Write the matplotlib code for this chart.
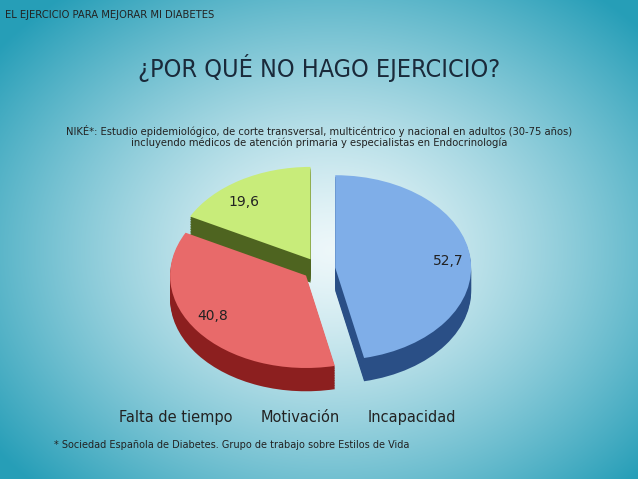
import numpy as np
import matplotlib
matplotlib.use("Agg")
import matplotlib.pyplot as plt

categories = ["Incapacidad", "Falta de tiempo", "Motivación"]
values = [52.7, 40.8, 19.6]
legend_order = ["Falta de tiempo", "Motivación", "Incapacidad"]
top_colors = ["#7faee8", "#e86a6a", "#c8ec7a"]
side_colors = ["#2a4f86", "#8c1f1f", "#4e6420"]

fig = plt.figure(figsize=(6.38, 4.79), dpi=100)
bg = fig.add_axes([0, 0, 1, 1])
yy, xx = np.mgrid[0:479, 0:638]
r = np.sqrt(((xx - 330) / 420.0) ** 2 + ((yy - 250) / 330.0) ** 2)
c0 = np.array([0.93, 0.97, 0.98]); c1 = np.array([0.15, 0.62, 0.72])
t = np.clip(r, 0, 1)[..., None] ** 1.3
img = c0 * (1 - t) + c1 * t
bg.imshow(img, aspect="auto", extent=[0, 1, 0, 1])
bg.axis("off")

fn = "DejaVu Sans"
fig.text(0.008, 0.962, "EL EJERCICIO PARA MEJORAR MI DIABETES", fontsize=8, color="#222", family=fn, fontstretch="condensed")
fig.text(0.5, 0.84, "¿POR QUÉ NO HAGO EJERCICIO?", fontsize=18, color="#1a2a3a", family=fn, ha="center", fontstretch="condensed")
fig.text(0.5, 0.695, "NIKÉ*: Estudio epidemiológico, de corte transversal, multicéntrico y nacional en adultos (30-75 años)\nincluyendo médicos de atención primaria y especialistas en Endocrinología",
         fontsize=8, color="#222", family=fn, ha="center", linespacing=1.1, fontstretch="condensed")

ax = fig.add_axes([0.16, 0.13, 0.68, 0.55])
explode = [0.12, 0.12, 0.12]
for k in range(14, 0, -1):
    ax.pie(values, startangle=90, counterclock=False, explode=explode, colors=side_colors,
           center=(0, -0.018 * k), wedgeprops=dict(linewidth=0))
ax.pie(values, startangle=90, counterclock=False, explode=explode, colors=top_colors,
       labels=[f"{v:.1f}".replace(".", ",") for v in values], labeldistance=0.72,
       textprops=dict(fontsize=10, color="#222"), wedgeprops=dict(linewidth=0))
ax.set_aspect(0.68)
ax.set_xlim(-1.25, 1.25); ax.set_ylim(-1.6, 1.25)
ax.axis("off")

for name, x in zip(legend_order, [0.275, 0.47, 0.645]):
    fig.text(x, 0.118, name, fontsize=10.5, ha="center", color="#222")
fig.text(0.085, 0.065, "* Sociedad Española de Diabetes. Grupo de trabajo sobre Estilos de Vida", fontsize=7, color="#222")
fig.savefig("out.png", dpi=100)
